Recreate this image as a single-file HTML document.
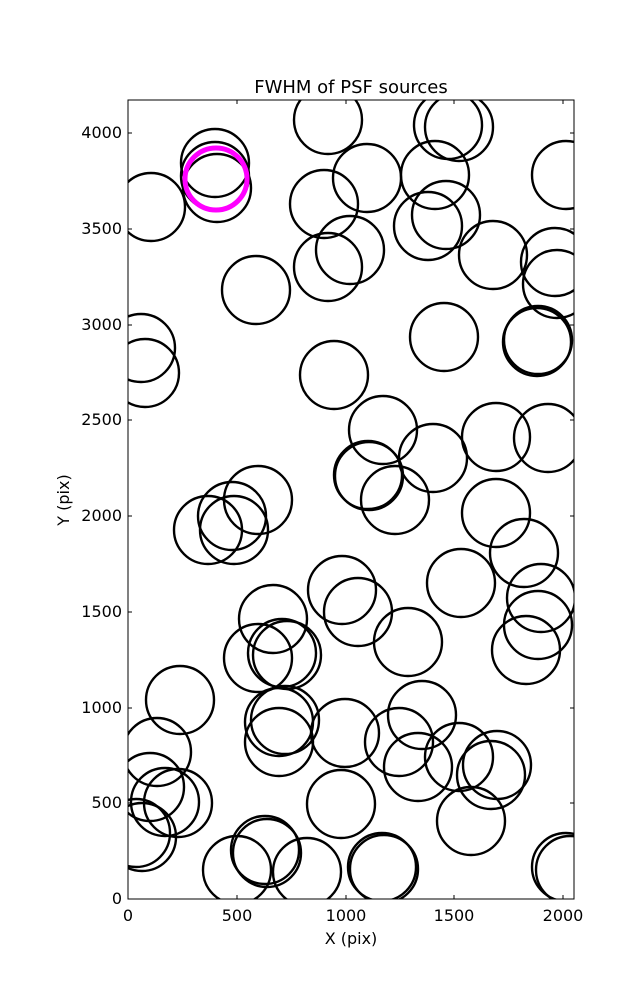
<!DOCTYPE html>
<html><head><style>body{margin:0;background:#fff}svg{display:block}</style></head><body>
<svg width="637" height="1000" xmlns="http://www.w3.org/2000/svg" font-family="'DejaVu Sans', 'Liberation Sans', sans-serif">
<rect width="637" height="1000" fill="#fff"/>
<defs><clipPath id="c"><rect x="128" y="100" width="446" height="799"/></clipPath></defs>
<g clip-path="url(#c)" fill="none" stroke="#000" stroke-width="2.4">
<circle cx="151" cy="207" r="34"/>
<circle cx="215" cy="163" r="34"/><circle cx="215" cy="176" r="34"/><circle cx="217" cy="188" r="34"/>
<circle cx="328" cy="120" r="34"/><circle cx="324" cy="204" r="34"/><circle cx="367" cy="178" r="34"/>
<circle cx="435" cy="175" r="34"/><circle cx="448" cy="125" r="34"/><circle cx="459" cy="127" r="34"/>
<circle cx="446" cy="215" r="34"/><circle cx="428" cy="226" r="34"/><circle cx="493" cy="255" r="34"/>
<circle cx="566" cy="175" r="34"/><circle cx="350" cy="250" r="34"/><circle cx="328" cy="267" r="34"/>
<circle cx="256" cy="290" r="34"/><circle cx="555" cy="262" r="34"/><circle cx="557" cy="284" r="34"/>
<circle cx="141" cy="348" r="34"/><circle cx="145" cy="373" r="34"/><circle cx="444" cy="337" r="34"/>
<circle cx="334" cy="375" r="34"/><circle cx="538" cy="340" r="34"/><circle cx="537" cy="342" r="34"/>
<circle cx="383" cy="430" r="34"/><circle cx="496" cy="437" r="34"/><circle cx="548" cy="438" r="34"/>
<circle cx="433" cy="458" r="34"/><circle cx="368" cy="475" r="34"/><circle cx="369" cy="476" r="34"/>
<circle cx="395" cy="500" r="34"/><circle cx="258" cy="500" r="34"/><circle cx="232" cy="516" r="34"/>
<circle cx="234" cy="530" r="34"/><circle cx="208" cy="530" r="34"/><circle cx="496" cy="513" r="34"/>
<circle cx="524" cy="553" r="34"/><circle cx="342" cy="590" r="34"/><circle cx="461" cy="583" r="34"/>
<circle cx="358" cy="612" r="34"/><circle cx="541" cy="598" r="34"/><circle cx="538" cy="625" r="34"/>
<circle cx="273" cy="619" r="34"/><circle cx="408" cy="642" r="34"/><circle cx="526" cy="650" r="34"/>
<circle cx="258" cy="658" r="34"/><circle cx="287" cy="655" r="34"/><circle cx="282" cy="653" r="34"/>
<circle cx="180" cy="700" r="34"/><circle cx="279" cy="722" r="34"/><circle cx="285" cy="720" r="34"/>
<circle cx="345" cy="733" r="34"/><circle cx="422" cy="715" r="34"/><circle cx="399" cy="742" r="34"/>
<circle cx="279" cy="742" r="34"/><circle cx="157" cy="752" r="34"/><circle cx="459" cy="757" r="34"/>
<circle cx="491" cy="775" r="34"/><circle cx="497" cy="765" r="34"/><circle cx="418" cy="767" r="34"/>
<circle cx="150" cy="787" r="34"/><circle cx="165" cy="802" r="34"/><circle cx="178" cy="803" r="34"/>
<circle cx="341" cy="804" r="34"/><circle cx="471" cy="821" r="34"/><circle cx="136" cy="833" r="34"/>
<circle cx="142" cy="837" r="34"/><circle cx="267" cy="853" r="34"/><circle cx="265" cy="850" r="34"/>
<circle cx="237" cy="870" r="34"/><circle cx="307" cy="872" r="34"/><circle cx="382" cy="867" r="34"/>
<circle cx="384" cy="869" r="34"/><circle cx="570" cy="870" r="34"/><circle cx="566" cy="867" r="34"/>
<circle cx="216" cy="179" r="31" stroke="#ff00ff" stroke-width="5"/>
</g>
<rect x="128" y="100" width="446" height="799" fill="none" stroke="#000" stroke-width="1"/>
<g stroke="#000" stroke-width="1">
<line x1="128" y1="899" x2="128" y2="895"/><line x1="237" y1="899" x2="237" y2="895"/><line x1="346" y1="899" x2="346" y2="895"/><line x1="454" y1="899" x2="454" y2="895"/><line x1="563" y1="899" x2="563" y2="895"/>
<line x1="237" y1="100" x2="237" y2="104"/><line x1="346" y1="100" x2="346" y2="104"/><line x1="454" y1="100" x2="454" y2="104"/><line x1="563" y1="100" x2="563" y2="104"/>
<line x1="128" y1="803" x2="132" y2="803"/><line x1="128" y1="708" x2="132" y2="708"/><line x1="128" y1="612" x2="132" y2="612"/><line x1="128" y1="516" x2="132" y2="516"/><line x1="128" y1="420" x2="132" y2="420"/><line x1="128" y1="325" x2="132" y2="325"/><line x1="128" y1="229" x2="132" y2="229"/><line x1="128" y1="133" x2="132" y2="133"/>
<line x1="574" y1="803" x2="570" y2="803"/><line x1="574" y1="708" x2="570" y2="708"/><line x1="574" y1="612" x2="570" y2="612"/><line x1="574" y1="516" x2="570" y2="516"/><line x1="574" y1="420" x2="570" y2="420"/><line x1="574" y1="325" x2="570" y2="325"/><line x1="574" y1="229" x2="570" y2="229"/><line x1="574" y1="133" x2="570" y2="133"/>
</g>
<g font-size="16" fill="#000" text-anchor="middle">
<text x="128" y="921">0</text><text x="237" y="921">500</text><text x="346" y="921">1000</text><text x="454" y="921">1500</text><text x="563" y="921">2000</text>
<text x="351" y="944">X (pix)</text>
<text x="351" y="93" font-size="18">FWHM of PSF sources</text>
</g>
<g font-size="16" fill="#000" text-anchor="end">
<text x="122" y="904">0</text><text x="122" y="808">500</text><text x="122" y="713">1000</text><text x="122" y="617">1500</text><text x="122" y="521">2000</text><text x="122" y="425">2500</text><text x="122" y="330">3000</text><text x="122" y="234">3500</text><text x="122" y="138">4000</text>
</g>
<text x="69" y="500" font-size="16" text-anchor="middle" transform="rotate(-90 69 500)">Y (pix)</text>
</svg>
</body></html>
